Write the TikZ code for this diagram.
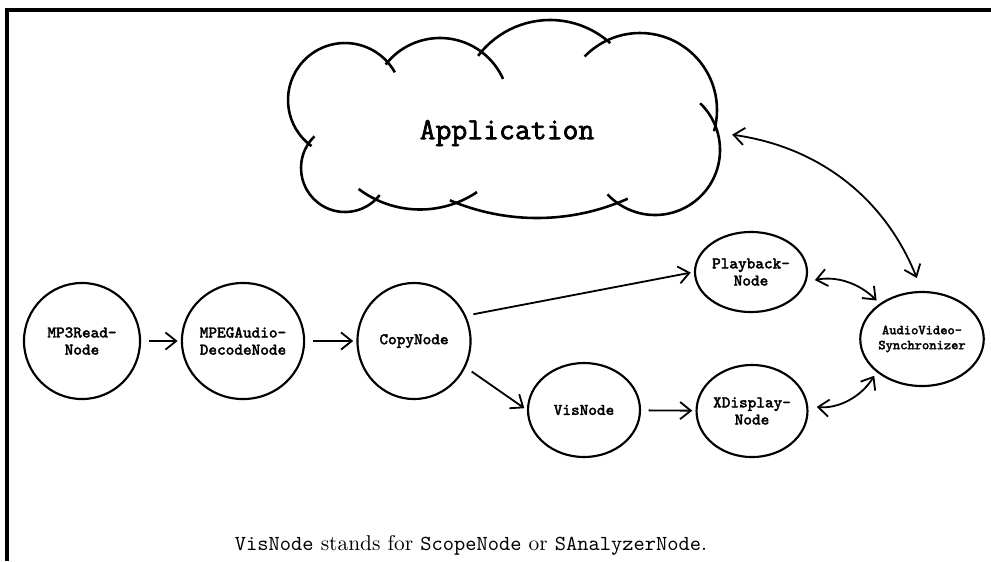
\documentclass[tikz,border=0pt]{standalone}
\usepackage{fontspec}
\usetikzlibrary{arrows.meta,shapes.geometric}
\newfontfamily\nodefont{Latin Modern Mono}[FakeBold=2.2]

% one cloud lobe: centre x, centre y, radius, start angle, end angle
\newcommand\lobe[5]{\draw[lobeline] ([shift={(#4:#3)}]#1,#2) arc[start angle=#4,end angle=#5,radius=#3];}

\begin{document}
\begin{tikzpicture}[x=0.467pt,y=-0.467pt,
  proc/.style={ellipse,draw,line width=1pt,inner sep=0pt,align=center,
    font=\nodefont\fontsize{7.6}{8}\selectfont},
  flow/.style={line width=0.85pt,-{Straight Barb[length=5pt,width=8pt]},shorten >=1.5pt,shorten <=3.5pt},
  sync/.style={line width=0.85pt,{Straight Barb[length=5pt,width=8pt]}-{Straight Barb[length=5pt,width=8pt]},
    shorten >=2pt,shorten <=4pt},
  lobeline/.style={line width=1.2pt}]
\useasboundingbox (0,0) rectangle (991,561);

% frame
\draw[line width=1.5pt] (7,561) -- (7,10) -- (991,10);

% application cloud
\lobe{345}{100}{57}{126}{331}
\lobe{440}{107}{69}{218}{336}
\lobe{550}{110}{90}{217}{312}
\lobe{640}{110}{77}{224}{376}
\lobe{655}{150}{65}{-46}{137}
\lobe{537}{-5}{223}{66}{113}
\lobe{420}{107.5}{102}{56}{127}
\lobe{345}{168}{44}{38}{226}
\node[inner sep=0pt,minimum width=199pt,
  font=\nodefont\fontsize{14.4}{16}\selectfont] (app) at (507,133) {Application};

% processing nodes
\node[proc,minimum width=54.2pt,minimum height=54.2pt] (mp3) at (82,341) {MP3Read-\\Node};
\node[proc,minimum width=54.6pt,minimum height=54.2pt] (mpeg) at (243,341) {MPEGAudio-\\DecodeNode};
\node[proc,minimum width=52.8pt,minimum height=54.2pt] (copy) at (414,341) {CopyNode};
\node[proc,minimum width=52.3pt,minimum height=37.4pt] (play) at (751,272) {Playback-\\Node};
\node[proc,minimum width=52.3pt,minimum height=43.9pt] (vis) at (584,410) {VisNode};
\node[proc,minimum width=51.8pt,minimum height=43pt] (xdisp) at (752,411) {XDisplay-\\Node};
\node[proc,minimum width=52.8pt,minimum height=43.9pt,
  font=\nodefont\fontsize{6.4}{7}\selectfont] (avs) at (922,339) {AudioVideo-\\Synchronizer};

% data flow
\draw[flow] (mp3) -- (mpeg);
\draw[flow] (mpeg) -- (copy);
\draw[flow] (copy.26) -- (play.west);
\draw[flow] (copy.-27) -- (vis.west);
\draw[flow] (vis) -- (xdisp);

% synchronisation
\draw[sync] (play.-10) to[bend left=28] (avs.140);
\draw[sync] (xdisp.5) to[bend right=32] (avs.216);
\draw[sync,shorten <=5.5pt,shorten >=6.5pt] (app.east) to[bend left=30] (avs.north);

% note
\node (note) at (471,545) {\texttt{VisNode} stands for \texttt{ScopeNode} or \texttt{SAnalyzerNode}.};
\end{tikzpicture}
\end{document}
